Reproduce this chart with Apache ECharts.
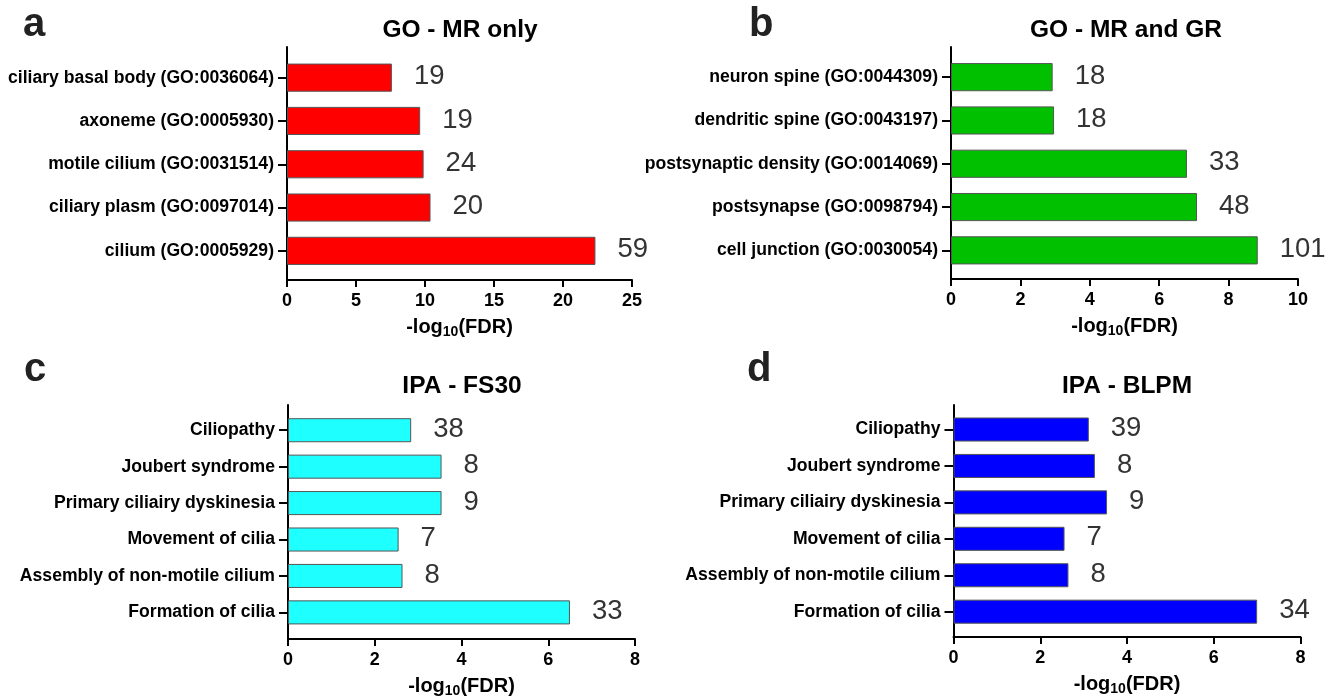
<!DOCTYPE html>
<html>
<head>
<meta charset="utf-8">
<title>GO / IPA enrichment</title>
<script src="https://cdn.jsdelivr.net/npm/echarts@6/dist/echarts.min.js"></script>
<style>
  html, body { margin: 0; padding: 0; background: #fff; }
  #main { width: 1336px; height: 697px; }
</style>
</head>
<body>
<div id="main"></div>
<script>
// 数据：每个面板的分类、-log10(FDR) 值和基因数
var catsA = ['ciliary basal body (GO:0036064)', 'axoneme (GO:0005930)', 'motile cilium (GO:0031514)', 'ciliary plasm (GO:0097014)', 'cilium (GO:0005929)'];
var valsA = [7.6, 9.65, 9.9, 10.4, 22.35];
var countsA = [19, 19, 24, 20, 59];

var catsB = ['neuron spine (GO:0044309)', 'dendritic spine (GO:0043197)', 'postsynaptic density (GO:0014069)', 'postsynapse (GO:0098794)', 'cell junction (GO:0030054)'];
var valsB = [2.93, 2.97, 6.8, 7.09, 8.84];
var countsB = [18, 18, 33, 48, 101];

var catsIPA = ['Ciliopathy', 'Joubert syndrome', 'Primary ciliairy dyskinesia', 'Movement of cilia', 'Assembly of non-motile cilium', 'Formation of cilia'];
var valsC = [2.84, 3.54, 3.54, 2.55, 2.64, 6.5];
var countsC = [38, 8, 9, 7, 8, 33];
var valsD = [3.12, 3.26, 3.54, 2.56, 2.65, 7.0];
var countsD = [39, 8, 9, 7, 8, 34];

var ticksAB = [25, 5, 10, 2];   // max / interval  (a, b)
var ticksCD = [8, 2, 8, 2];     // (c, d)

var FONT = '"Liberation Sans", Arial, Helvetica, sans-serif';

// 面板布局（像素）
var panels = [
  { letter: 'a', title: 'GO - MR only',   cats: catsA,   vals: valsA, counts: countsA, color: '#ff0000', max: ticksAB[0], interval: ticksAB[1],
    left: 287, width: 345, top: 47, height: 233, innerTop: 56, innerH: 216.5, bw: '65%', lx: 23, ly: 24.6, tx: 460, ty: 30 },
  { letter: 'b', title: 'GO - MR and GR', cats: catsB,   vals: valsB, counts: countsB, color: '#00c000', max: ticksAB[2], interval: ticksAB[3],
    left: 951, width: 347, top: 47, height: 232, innerTop: 55.5, innerH: 216.5, bw: '65%', lx: 749, ly: 24.6, tx: 1126, ty: 30 },
  { letter: 'c', title: 'IPA - FS30',     cats: catsIPA, vals: valsC, counts: countsC, color: '#1effff', max: ticksCD[0], interval: ticksCD[1],
    left: 288, width: 347, top: 405, height: 234, innerTop: 412, innerH: 218.6, bw: '66%', lx: 24, ly: 369.6, tx: 462, ty: 386 },
  { letter: 'd', title: 'IPA - BLPM',     cats: catsIPA, vals: valsD, counts: countsD, color: '#0000ff', max: ticksCD[2], interval: ticksCD[3],
    left: 953.5, width: 347, top: 405, height: 232, innerTop: 411.3, innerH: 218.6, bw: '66%', lx: 747, ly: 369.6, tx: 1127, ty: 386 }
];

var grid = [], xAxis = [], yAxis = [], series = [], title = [];

panels.forEach(function (p, i) {
  var outer = 2 * i, inner = 2 * i + 1;
  grid.push({ left: p.left, width: p.width, top: p.top, height: p.height, outerBoundsMode: 'none' });
  grid.push({ left: p.left, width: p.width, top: p.innerTop, height: p.innerH, outerBoundsMode: 'none' });

  // 外层：坐标轴线和刻度
  xAxis.push({
    type: 'value', gridIndex: outer, min: 0, max: p.max, interval: p.interval,
    axisLine: { show: true, lineStyle: { color: '#000', width: 2 } },
    axisTick: { show: true, length: 7, lineStyle: { color: '#000', width: 2 } },
    splitLine: { show: false },
    axisLabel: { fontFamily: FONT, fontSize: 18, fontWeight: 'bold', color: '#000', margin: 12, lineHeight: 18 },
    name: '{m|-log}{s|10}{m|(FDR)}', nameLocation: 'middle', nameGap: 35,
    nameTextStyle: {
      rich: {
        m: { fontFamily: FONT, fontSize: 20, fontWeight: 'bold', color: '#000', lineHeight: 24 },
        s: { fontFamily: FONT, fontSize: 14, fontWeight: 'bold', color: '#000', lineHeight: 24, verticalAlign: 'bottom', padding: [10, 0, 0, 0] }
      }
    }
  });
  yAxis.push({
    type: 'value', gridIndex: outer, min: 0, max: 1,
    axisLine: { show: true, lineStyle: { color: '#000', width: 2 } },
    axisTick: { show: false }, axisLabel: { show: false }, splitLine: { show: false }
  });

  // 内层：柱子和分类标签
  xAxis.push({ type: 'value', gridIndex: inner, min: 0, max: p.max, show: false });
  yAxis.push({
    type: 'category', gridIndex: inner, data: p.cats, inverse: true,
    axisLine: { show: false },
    axisTick: { show: true, alignWithLabel: true, length: 9, lineStyle: { color: '#000', width: 2 } },
    axisLabel: { fontFamily: FONT, fontSize: 17.6, fontWeight: 'bold', color: '#000', margin: 13 }
  });

  series.push({
    type: 'bar', xAxisIndex: inner, yAxisIndex: inner, data: p.vals, barWidth: p.bw,
    itemStyle: { color: p.color, borderColor: '#555', borderWidth: 1 },
    label: {
      show: true, position: 'right', distance: 22, offset: [0, -1],
      fontFamily: FONT, fontSize: 27.5, color: '#333',
      formatter: (function (counts) { return function (d) { return counts[d.dataIndex]; }; })(p.counts)
    },
    animation: false
  });

  title.push({ text: p.letter, left: p.lx, top: p.ly, padding: 0, textVerticalAlign: 'middle',
    textStyle: { fontFamily: FONT, fontSize: 40, fontWeight: 'bold', color: '#222' } });
  title.push({ text: p.title, left: p.tx, top: p.ty, padding: 0, textAlign: 'center', textVerticalAlign: 'middle',
    textStyle: { fontFamily: FONT, fontSize: 24.5, fontWeight: 'bold', color: '#000' } });
});

var myChart = echarts.init(document.getElementById('main'));
myChart.setOption({
  backgroundColor: '#fff',
  animation: false,
  title: title,
  grid: grid,
  xAxis: xAxis,
  yAxis: yAxis,
  series: series
});
</script>
</body>
</html>
